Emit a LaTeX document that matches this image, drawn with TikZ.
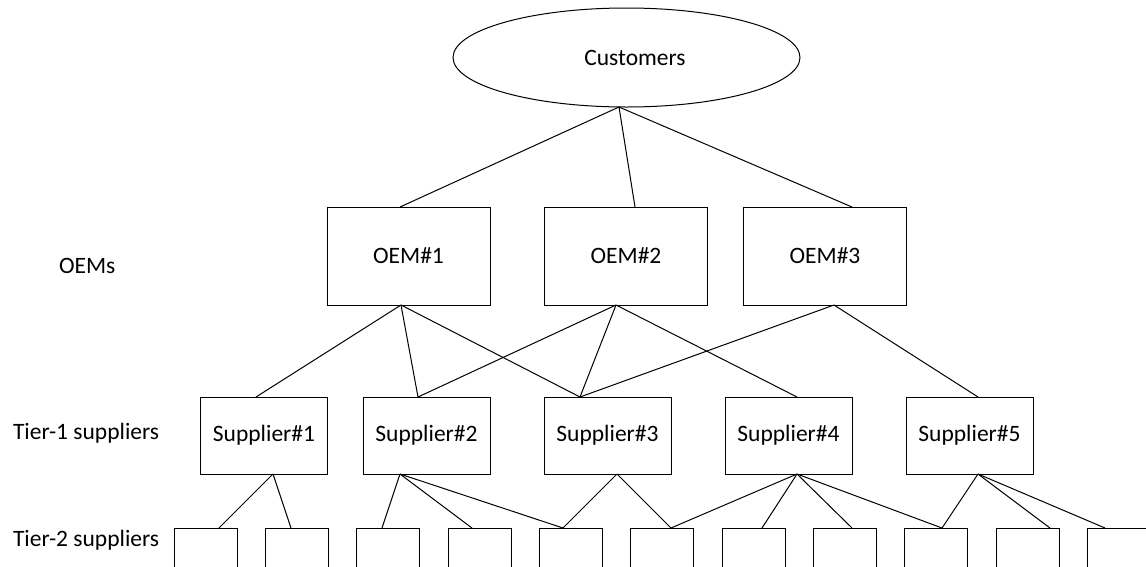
\documentclass[tikz,border=0pt]{standalone}
\usepackage{fontspec}
\setmainfont{Carlito}
\usetikzlibrary{shapes.geometric}
\begin{document}
\begin{tikzpicture}[x=1pt,y=-1pt,
  every node/.style={font=\fontsize{23.5}{28}\selectfont, inner sep=0pt, outer sep=0pt},
  oembox/.style={draw, line width=1pt, minimum width=163pt, minimum height=98pt},
  supbox/.style={draw, line width=1pt, minimum width=127pt, minimum height=77pt},
  subbox/.style={draw, line width=1pt, minimum width=63pt, minimum height=62pt},
  tierlabel/.style={anchor=west},
  link/.style={line width=1pt}]
\useasboundingbox (0,0) rectangle (1146,566);
\fill[white] (0,0) rectangle (1146,566);
\clip (0,0) rectangle (1146,566);

% customers
\node[draw, ellipse, line width=1pt, minimum width=347pt, minimum height=99pt,
      label={[xshift=8.5pt]center:Customers}] (cust) at (626.5,57.5) {};

% OEM layer
\node[oembox] (o1) at (408.5,256) {OEM\#1};
\node[oembox] (o2) at (626,256) {OEM\#2};
\node[oembox] (o3) at (825,256) {OEM\#3};

% tier-1 suppliers
\node[supbox] (s1) at (264,435.5) {Supplier\#1};
\node[supbox] (s2) at (426.5,435.5) {Supplier\#2};
\node[supbox] (s3) at (607.5,435.5) {Supplier\#3};
\node[supbox] (s4) at (788.5,435.5) {Supplier\#4};
\node[supbox] (s5) at (969.5,435.5) {Supplier\#5};

% tier-2 suppliers
\foreach \i/\x in {1/205.5,2/296.5,3/387.5,4/479.5,5/570.5,6/661.5,7/753.5,8/844.5,9/935.5,10/1027.5,11/1118.5}
  \node[subbox] (t\i) at (\x,559) {};

% row labels
\node[tierlabel] (lo) at (59,266) {OEMs};
\node[tierlabel] (l1) at (13,433) {Tier-1 suppliers};
\node[tierlabel] (l2) at (13,540) {Tier-2 suppliers};

% attachment points
\coordinate (cb) at ([xshift=-7.5pt]cust.south);
\coordinate (o1t) at ([xshift=-8.5pt]o1.north);
\coordinate (o2t) at ([xshift=9pt]o2.north);
\coordinate (o3t) at ([xshift=27pt]o3.north);
\coordinate (o1b) at ([xshift=-7.5pt]o1.south);
\coordinate (o2b) at ([xshift=-10pt]o2.south);
\coordinate (o3b) at ([xshift=9pt]o3.south);
\coordinate (s1t) at ([xshift=-8pt]s1.north);
\coordinate (s2t) at ([xshift=-8.5pt]s2.north);
\coordinate (s3t) at ([xshift=-27.5pt]s3.north);
\coordinate (s4t) at ([xshift=8.5pt]s4.north);
\coordinate (s5t) at ([xshift=8.5pt]s5.north);
\coordinate (s1b) at ([xshift=9pt]s1.south);
\coordinate (s2b) at ([xshift=-26.5pt]s2.south);
\coordinate (s3b) at ([xshift=9.5pt]s3.south);
\coordinate (s4b) at ([xshift=8.5pt]s4.south);
\coordinate (s5b) at ([xshift=8.5pt]s5.south);
\foreach \i/\d in {1/13.5,2/-5.5,3/-5.5,4/-7.5,5/-7.5,6/9.5,7/8.5,8/7.5,9/6.5,10/22.5,11/-13.5}
  \coordinate (t\i t) at ([xshift=\d pt]t\i.north);

% customers to OEMs
\draw[link] (cb) -- (o1t);
\draw[link] (cb) -- (o2t);
\draw[link] (cb) -- (o3t);

% OEMs to tier-1
\draw[link] (o1b) -- (s1t);
\draw[link] (o1b) -- (s2t);
\draw[link] (o1b) -- (s3t);
\draw[link] (o2b) -- (s2t);
\draw[link] (o2b) -- (s3t);
\draw[link] (o2b) -- (s4t);
\draw[link] (o3b) -- (s3t);
\draw[link] (o3b) -- (s5t);

% tier-1 to tier-2
\draw[link] (s1b) -- (t1t);
\draw[link] (s1b) -- (t2t);
\draw[link] (s2b) -- (t3t);
\draw[link] (s2b) -- (t4t);
\draw[link] (s2b) -- (t5t);
\draw[link] (s3b) -- (t5t);
\draw[link] (s3b) -- (t6t);
\draw[link] (s4b) -- (t6t);
\draw[link] (s4b) -- (t7t);
\draw[link] (s4b) -- (t8t);
\draw[link] (s4b) -- (t9t);
\draw[link] (s5b) -- (t9t);
\draw[link] (s5b) -- (t10t);
\draw[link] (s5b) -- (t11t);
\end{tikzpicture}
\end{document}
